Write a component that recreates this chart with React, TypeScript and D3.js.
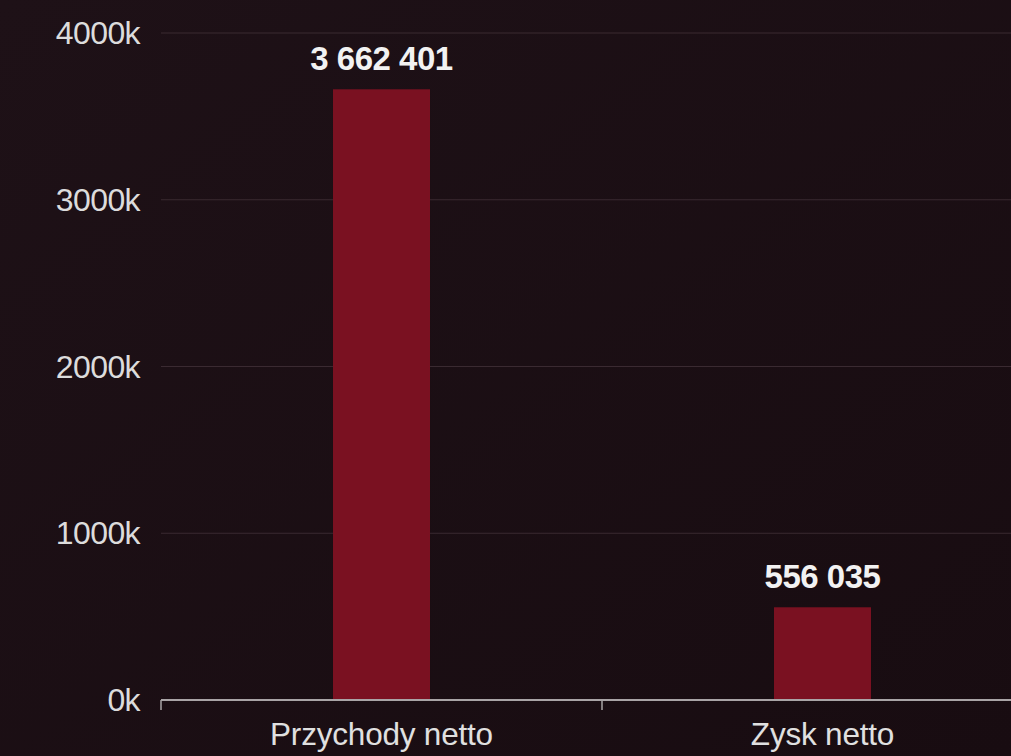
import React from "react";
import * as d3 from "d3";

const categories: string[] = ["Przychody netto", "Zysk netto"];
const values: number[] = [3662401, 556035];
const yTicks: number[] = [0, 1000000, 2000000, 3000000, 4000000];

const W = 1011;
const H = 756;

export default function App() {
  const x = d3.scaleBand<string>().domain(categories).range([161, 1043]).padding(0);
  const y = d3.scaleLinear().domain([0, 4000000]).range([700, 33]);
  const barW = x.bandwidth() * 0.22;
  const fmt = (v: number) => d3.format(",")(v).replace(/,/g, " ");
  const font = "'Liberation Sans', Arial, Helvetica, sans-serif";

  return (
    <div style={{ position: "fixed", left: 0, top: 0, width: W, height: H }}>
      <svg width={W} height={H} style={{ display: "block" }}>
        <defs>
          <linearGradient id="bg" x1="0" y1="0" x2="1" y2="1">
            <stop offset="0%" stopColor="#1e1117" />
            <stop offset="100%" stopColor="#180c11" />
          </linearGradient>
        </defs>
        <rect x={0} y={0} width={W} height={H} fill="url(#bg)" />
        {yTicks.filter((t) => t > 0).map((t) => (
          <line key={"g" + t} x1={161} x2={W} y1={y(t)} y2={y(t)} stroke="#3a2a31" strokeWidth={1.2} />
        ))}
        {yTicks.map((t) => (
          <text
            key={"t" + t}
            x={140}
            y={y(t)}
            dy="0.35em"
            textAnchor="end"
            fill="#dcdcdc"
            fontFamily={font}
            fontSize={32}
            style={{ letterSpacing: "-0.6px" }}
          >
            {t / 1000 + "k"}
          </text>
        ))}
        {categories.map((c, i) => {
          const cx = (x(c) as number) + x.bandwidth() / 2;
          return (
            <g key={c}>
              <rect
                x={cx - barW / 2}
                y={y(values[i])}
                width={barW}
                height={y(0) - y(values[i])}
                fill="#7a1121"
              />
              <text
                x={cx}
                y={y(values[i]) - 19}
                textAnchor="middle"
                fill="#f2f2f2"
                fontFamily={font}
                fontWeight="bold"
                fontSize={33}
                style={{ letterSpacing: "-0.5px" }}
              >
                {fmt(values[i])}
              </text>
              <text
                x={cx}
                y={745}
                textAnchor="middle"
                fill="#e0e0e0"
                fontFamily={font}
                fontSize={31.5}
                style={{ letterSpacing: "-0.2px" }}
              >
                {c}
              </text>
            </g>
          );
        })}
        <line x1={161} x2={W} y1={y(0)} y2={y(0)} stroke="#a9a4a6" strokeWidth={2} />
        {[161, ...categories.slice(1).map((c) => x(c) as number)].map((px) => (
          <line key={"k" + px} x1={px} x2={px} y1={y(0)} y2={y(0) + 10} stroke="#a9a4a6" strokeWidth={1.5} />
        ))}
      </svg>
    </div>
  );
}
